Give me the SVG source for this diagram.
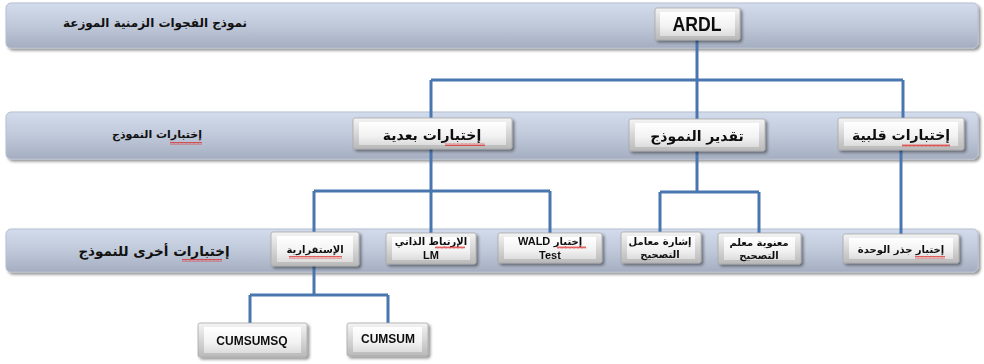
<svg xmlns="http://www.w3.org/2000/svg" width="984" height="364" viewBox="0 0 984 364">
<style>
.band{fill:url(#bandGrad);stroke:#b6bfd0;stroke-width:1}
.box{fill:url(#boxGrad);stroke:#a8a8a8;stroke-width:0.8}
.inner{fill:url(#innerGrad);stroke:none}
.ar{font-family:"DejaVu Sans","Noto Sans",sans-serif;font-weight:bold;fill:#111;text-anchor:middle}
.lat{font-family:"Liberation Sans",Arial,sans-serif;font-weight:bold;fill:#111;text-anchor:middle}
.conn{fill:none;stroke:#4a76b0;stroke-width:3;stroke-linejoin:miter}
.sq{fill:url(#squig)}
</style>
<defs>
<linearGradient id="bandGrad" x1="0" y1="0" x2="0" y2="1">
<stop offset="0" stop-color="#d3dcec"/>
<stop offset="0.5" stop-color="#c0c9da"/>
<stop offset="1" stop-color="#a5aec0"/>
</linearGradient>
<linearGradient id="boxGrad" x1="0" y1="0" x2="0" y2="1">
<stop offset="0" stop-color="#f4f4f4"/>
<stop offset="1" stop-color="#b9b9b9"/>
</linearGradient>
<linearGradient id="innerGrad" x1="0" y1="0" x2="0" y2="1">
<stop offset="0" stop-color="#ffffff"/>
<stop offset="0.6" stop-color="#f2f2f2"/>
<stop offset="1" stop-color="#dcdcdc"/>
</linearGradient>
<filter id="shadow" x="-10%" y="-20%" width="130%" height="160%">
<feGaussianBlur in="SourceAlpha" stdDeviation="1.5"/>
<feOffset dx="1.5" dy="2" result="b"/>
<feComponentTransfer><feFuncA type="linear" slope="0.45"/></feComponentTransfer>
<feMerge><feMergeNode/><feMergeNode in="SourceGraphic"/></feMerge>
</filter>
<pattern id="squig" width="4" height="3" patternUnits="userSpaceOnUse">
<path d="M0 2.5 L1 0.5 L2 2.5 L3 0.5 L4 2.5" fill="none" stroke="#e02020" stroke-width="0.7"/>
</pattern>
</defs>

<g id="bands">
<g id="band-1"><rect class="band" x="6" y="3" width="972" height="45" rx="5" filter="url(#shadow)"/>
<text class="ar" x="155" y="27" font-size="12">نموذج الفجوات الزمنية الموزعة</text></g>
<g id="band-2"><rect class="band" x="6" y="112" width="972" height="47" rx="5" filter="url(#shadow)"/>
<text class="ar" x="157" y="138" font-size="11">إختبارات النموذج</text>
<rect class="sq" x="170" y="142" width="32" height="3"/></g>
<g id="band-3"><rect class="band" x="6" y="229" width="972" height="43" rx="5" filter="url(#shadow)"/>
<text class="ar" x="154" y="256" font-size="13.5">إختبارات أخرى للنموذج</text>
<rect class="sq" x="182" y="259" width="40" height="3"/></g>
</g>

<g id="connectors">
<path class="conn" d="M697 40 V80 M431 80 H903 M431 80 V118 M697 80 V119 M903 80 V118"/>
<path class="conn" d="M431 149 V191 M314 191 H550 M314 191 V232 M431 191 V233 M550 191 V233"/>
<path class="conn" d="M697 151 V192 M660 192 H759 M660 192 V232 M759 192 V233"/>
<path class="conn" d="M901 150 V234"/>
<path class="conn" d="M314 266 V295 M250 295 H388 M250 295 V323 M388 295 V323"/>
</g>

<g id="node-ardl" filter="url(#shadow)">
<rect class="box" x="655" y="8" width="85" height="32" rx="2"/>
<rect class="inner" x="660" y="12" width="75" height="24"/>
<text class="lat" x="697" y="31" font-size="20" textLength="49" lengthAdjust="spacingAndGlyphs">ARDL</text>
</g>
<g id="node-post" filter="url(#shadow)">
<rect class="box" x="353" y="118" width="159" height="31" rx="2"/>
<rect class="inner" x="359" y="122" width="147" height="23"/>
<text class="ar" x="432" y="140" font-size="14">إختبارات بعدية</text>
<rect class="sq" x="445" y="143" width="40" height="3"/>
</g>
<g id="node-estimate" filter="url(#shadow)">
<rect class="box" x="629" y="119" width="136" height="32" rx="2"/>
<rect class="inner" x="635" y="123" width="124" height="24"/>
<text class="ar" x="697" y="141" font-size="14">تقدير النموذج</text>
</g>
<g id="node-pre" filter="url(#shadow)">
<rect class="box" x="838" y="118" width="126" height="32" rx="2"/>
<rect class="inner" x="844" y="122" width="114" height="24"/>
<text class="ar" x="901" y="140" font-size="14">إختبارات قلبية</text>
<rect class="sq" x="902" y="144" width="48" height="3"/>
</g>
<g id="node-stability" filter="url(#shadow)">
<rect class="box" x="271" y="232" width="88" height="34" rx="2"/>
<rect class="inner" x="277" y="236" width="76" height="26"/>
<text class="ar" x="315" y="253" font-size="10">الإستقرارية</text>
<rect class="sq" x="289" y="256" width="53" height="3"/>
</g>
<g id="node-lm" filter="url(#shadow)">
<rect class="box" x="386" y="233" width="90" height="31" rx="2"/>
<rect class="inner" x="392" y="237" width="78" height="23"/>
<text class="ar" x="431" y="245" font-size="10">الإرتباط الذاتي</text>
<text class="lat" x="431" y="259" font-size="11">LM</text>
<rect class="sq" x="435" y="246" width="30" height="3"/>
</g>
<g id="node-wald" filter="url(#shadow)">
<rect class="box" x="498" y="233" width="104" height="30" rx="2"/>
<rect class="inner" x="504" y="237" width="92" height="22"/>
<text class="ar" x="550" y="245" font-size="10"><tspan font-family="Liberation Sans, Arial, sans-serif" font-size="11">WALD</tspan>  إختبار</text>
<text class="lat" x="550" y="259" font-size="11">Test</text>
<rect class="sq" x="557" y="246" width="29" height="3"/>
</g>
<g id="node-ecsign" filter="url(#shadow)">
<rect class="box" x="621" y="232" width="80" height="31" rx="2"/>
<rect class="inner" x="627" y="236" width="68" height="23"/>
<text class="ar" x="660" y="245" font-size="10">إشارة معامل</text>
<text class="ar" x="660" y="258" font-size="10">التصحيح</text>
</g>
<g id="node-ecsig" filter="url(#shadow)">
<rect class="box" x="718" y="233" width="83" height="31" rx="2"/>
<rect class="inner" x="724" y="237" width="71" height="23"/>
<text class="ar" x="759" y="246" font-size="10">معنوية معلم</text>
<text class="ar" x="759" y="259" font-size="10">التصحيح</text>
</g>
<g id="node-unitroot" filter="url(#shadow)">
<rect class="box" x="843" y="234" width="116" height="29" rx="2"/>
<rect class="inner" x="849" y="238" width="104" height="21"/>
<text class="ar" x="901" y="253" font-size="10">إختبار جذر الوحدة</text>
<rect class="sq" x="915" y="256" width="30" height="3"/>
</g>
<g id="node-cumsumsq" filter="url(#shadow)">
<rect class="box" x="198" y="323" width="109" height="34" rx="2"/>
<rect class="inner" x="204" y="327" width="97" height="26"/>
<text class="lat" x="252" y="345" font-size="12">CUMSUMSQ</text>
</g>
<g id="node-cumsum" filter="url(#shadow)">
<rect class="box" x="347" y="323" width="81" height="33" rx="2"/>
<rect class="inner" x="353" y="327" width="69" height="25"/>
<text class="lat" x="388" y="343" font-size="12">CUMSUM</text>
</g>
</svg>
